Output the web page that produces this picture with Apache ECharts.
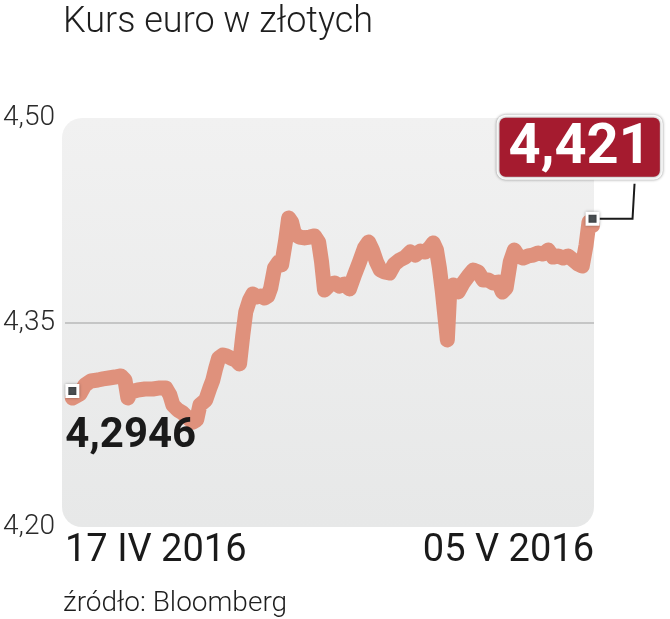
<!DOCTYPE html>
<html>
<head>
<meta charset="utf-8">
<script src="https://cdn.jsdelivr.net/npm/echarts@6/dist/echarts.min.js"></script>
<style>
  html, body { margin: 0; padding: 0; background: #fff; }
  #chart { width: 670px; height: 619px; }
</style>
</head>
<body>
<div id="chart"></div>
<script>
// dni od 17 IV 2016 (os X) i kurs EUR/PLN
const days = [0.25, 0.51, 0.68, 0.88, 1.12, 1.29, 1.49, 1.70, 1.90, 2.04, 2.14, 2.24, 2.48, 2.72, 2.99, 3.23, 3.43, 3.57, 3.67, 3.84,
  4.01, 4.18, 4.35, 4.48, 4.59, 4.79, 4.93, 5.03, 5.13, 5.23, 5.37, 5.50, 5.64, 5.81, 5.94, 6.05, 6.15, 6.28, 6.39, 6.52,
  6.66, 6.79, 6.90, 7.00, 7.13, 7.27, 7.37, 7.51, 7.61, 7.71, 7.81, 7.98, 8.15, 8.32, 8.49, 8.63, 8.73, 8.83, 9.00, 9.17,
  9.34, 9.51, 9.68, 9.85, 10.02, 10.19, 10.33, 10.46, 10.60, 10.73, 10.87, 11.04, 11.21, 11.38, 11.58, 11.75, 11.92, 12.09, 12.26, 12.43,
  12.53, 12.64, 12.74, 12.84, 12.94, 13.01, 13.08, 13.21, 13.38, 13.55, 13.72, 13.89, 14.06, 14.23, 14.40, 14.57, 14.74, 14.88, 15.01, 15.15,
  15.29, 15.42, 15.59, 15.76, 15.93, 16.10, 16.27, 16.44, 16.61, 16.78, 16.95, 17.12, 17.29, 17.46, 17.60, 17.73, 17.83, 17.95]
const rates = [4.2946, 4.2976, 4.3042, 4.3071, 4.3078, 4.3086, 4.3093, 4.3100, 4.3108, 4.3078, 4.2946, 4.2990, 4.3005, 4.3012, 4.3012, 4.3020, 4.3020, 4.2968, 4.2895, 4.2858,
  4.2836, 4.2800, 4.2770, 4.2785, 4.2895, 4.2932, 4.3020, 4.3078, 4.3166, 4.3240, 4.3262, 4.3254, 4.3240, 4.3225, 4.3196, 4.3408, 4.3577, 4.3665, 4.3709, 4.3687,
  4.3694, 4.3680, 4.3694, 4.3753, 4.3900, 4.3944, 4.3922, 4.4105, 4.4267, 4.4237, 4.4149, 4.4127, 4.4120, 4.4127, 4.4135, 4.4090, 4.3944, 4.3738, 4.3775, 4.3790,
  4.3767, 4.3782, 4.3746, 4.3848, 4.3944, 4.4046, 4.4090, 4.4032, 4.3944, 4.3885, 4.3871, 4.3863, 4.3929, 4.3958, 4.3980, 4.4017, 4.3995, 4.4024, 4.4017, 4.4054,
  4.4083, 4.4032, 4.3900, 4.3724, 4.3518, 4.3372, 4.3680, 4.3775, 4.3724, 4.3790, 4.3841, 4.3885, 4.3871, 4.3812, 4.3812, 4.3790, 4.3797, 4.3724, 4.3753, 4.3944,
  4.4032, 4.3988, 4.3973, 4.3988, 4.3995, 4.4010, 4.4002, 4.4032, 4.3980, 4.3988, 4.3973, 4.3988, 4.3958, 4.3929, 4.3914, 4.4068, 4.4237, 4.4210]
const dateLabels = ['17 IV 2016', '05 V 2016']
const yTicks = [4.20, 4.35, 4.50]

const comma = (v, d) => v.toFixed(d).replace('.', ',')
const last = rates.length - 1

let chart = echarts.init(document.getElementById('chart'))
chart.setOption({
  animation: false,
  title: [
    {
      text: 'Kurs euro w złotych',
      left: 58, top: 0,
      textStyle: { fontFamily: 'Roboto', fontWeight: 300, fontSize: 36, color: '#1e1e1e' }
    },
    {
      text: 'źródło: Bloomberg',
      left: 58, top: 585,
      textStyle: { fontFamily: 'Roboto', fontWeight: 300, fontSize: 28, color: '#1e1e1e' }
    }
  ],
  graphic: [
    {
      type: 'rect', z: -10, silent: true,
      shape: { x: 62, y: 118, width: 532, height: 409, r: 20 },
      style: {
        fill: new echarts.graphic.LinearGradient(0, 0, 0, 1, [
          { offset: 0, color: '#f1f1f1' },
          { offset: 1, color: '#e7e8e8' }
        ])
      }
    }
  ],
  grid: { left: 62, right: 76, top: 118, bottom: 92, containLabel: false },
  xAxis: {
    type: 'value',
    min: 0, max: 18, interval: 18,
    axisLine: { show: false },
    axisTick: { show: false },
    splitLine: { show: false },
    axisLabel: {
      margin: 5,
      fontFamily: 'Roboto', fontSize: 38, color: '#1a1a1a',
      alignMinLabel: 'left', alignMaxLabel: 'right',
      formatter: v => (v === 0 ? dateLabels[0] : dateLabels[1])
    }
  },
  yAxis: {
    type: 'value',
    min: yTicks[0], max: yTicks[2], interval: 0.15,
    axisLine: { show: false },
    axisTick: { show: false },
    axisLabel: {
      align: 'left', margin: 62,
      fontFamily: 'Roboto', fontWeight: 300, fontSize: 28, color: '#2a2a2a',
      formatter: v => comma(v, 2)
    },
    splitLine: {
      lineStyle: { color: ['rgba(0,0,0,0)', '#b9b9b9', 'rgba(0,0,0,0)'], width: 1.5 }
    }
  },
  series: [
    {
      type: 'line',
      data: days.map((d, i) => [d, rates[i]]),
      showSymbol: false,
      clip: true,
      lineStyle: { color: '#df917c', width: 15, cap: 'round', join: 'round' },
      markPoint: {
        symbol: 'rect',
        symbolSize: 11,
        symbolOffset: [0, -7],
        itemStyle: {
          color: '#4a4f52', borderColor: '#fff', borderWidth: 3,
          shadowBlur: 3, shadowColor: 'rgba(0,0,0,0.35)'
        },
        data: [
          {
            coord: [days[0], rates[0]],
            label: {
              formatter: comma(rates[0], 4),
              position: [0, 31], align: 'left', verticalAlign: 'top',
              fontFamily: 'Roboto', fontWeight: 'bold', fontSize: 42, color: '#1a1a1a'
            }
          },
          {
            coord: [days[last], rates[last]],
            label: {
              formatter: comma(rates[last], 3),
              position: [-86, -94], align: 'left', verticalAlign: 'top',
              fontFamily: 'Roboto', fontWeight: 'bold', fontSize: 56, lineHeight: 56, color: '#fff',
              backgroundColor: '#a51b2f', borderColor: '#fff', borderWidth: 3, borderRadius: 6,
              padding: [3, 9, 0, 9],
              shadowBlur: 3, shadowColor: 'rgba(0,0,0,0.45)'
            }
          }
        ]
      }
    }
  ]
})

// linia laczaca znacznik z etykieta ostatniej wartosci
let p = chart.convertToPixel({ seriesIndex: 0 }, [days[last], rates[last]])
chart.setOption({
  graphic: [
    {},
    {
      type: 'polyline', z: 5, silent: true,
      shape: { points: [[p[0] + 7, p[1] - 7], [p[0] + 40, p[1] - 7], [p[0] + 42, p[1] - 42]] },
      style: { stroke: '#1a1a1a', lineWidth: 2, fill: null }
    }
  ]
})
</script>
</body>
</html>
